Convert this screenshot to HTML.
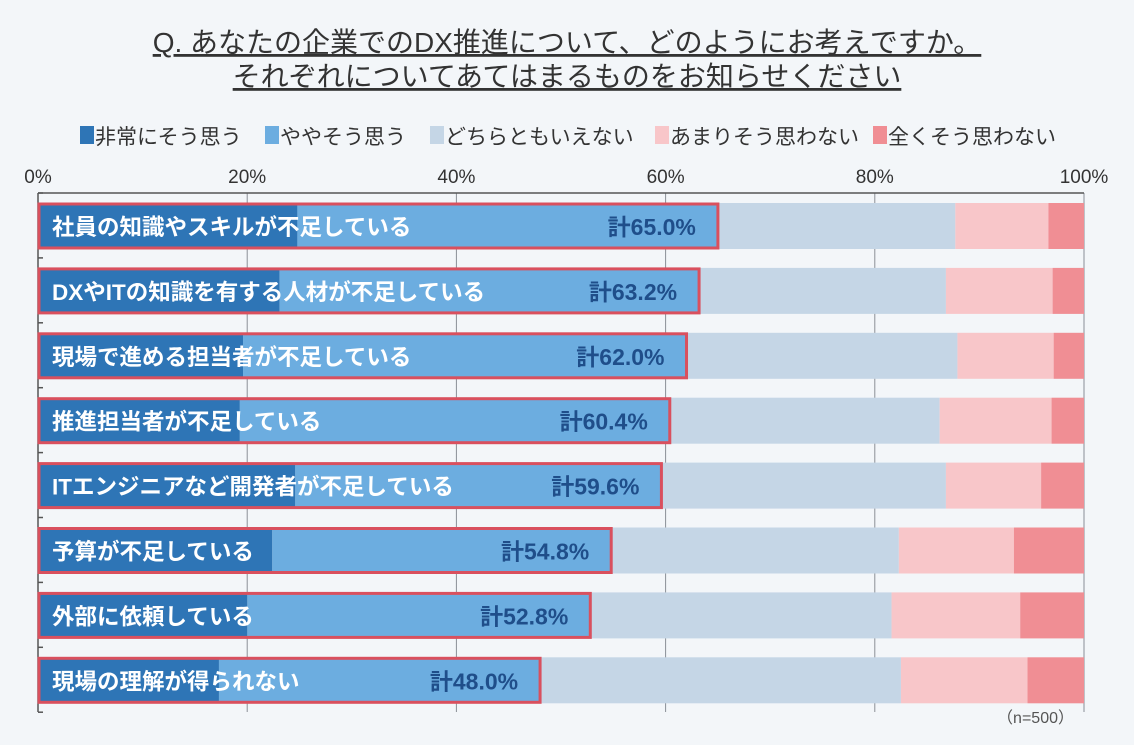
<!DOCTYPE html>
<html><head><meta charset="utf-8">
<style>
body{margin:0;background:#f3f6f9;}
#wrap{position:relative;width:1134px;height:745px;overflow:hidden;background:#f3f6f9;font-family:"Liberation Sans","Noto Sans CJK JP",sans-serif;}
</style></head>
<body>
<div id="wrap">
<svg id="chart" width="1134" height="745" xmlns="http://www.w3.org/2000/svg"></svg>
</div>
<script>
const categories=["社員の知識やスキルが不足している","DXやITの知識を有する人材が不足している","現場で進める担当者が不足している","推進担当者が不足している","ITエンジニアなど開発者が不足している","予算が不足している","外部に依頼している","現場の理解が得られない"];
const strongly=[24.8,23.1,19.6,19.3,24.6,22.4,20.0,17.3];
const somewhat=[40.2,40.1,42.4,41.1,35.0,32.4,32.8,30.7];
const neutral=[22.7,23.6,25.9,25.8,27.2,27.5,28.8,34.5];
const notReally=[8.9,10.2,9.2,10.7,9.1,11.0,12.3,12.1];
const notAtAll=[3.4,3.0,2.9,3.1,4.1,6.7,6.1,5.4];
const totalLabels=["計65.0%","計63.2%","計62.0%","計60.4%","計59.6%","計54.8%","計52.8%","計48.0%"];
const tickValues=[0,20,40,60,80,100];
const seriesNames=["非常にそう思う","ややそう思う","どちらともいえない","あまりそう思わない","全くそう思わない"];
const colors=["#2e75b6","#6cade0","#c5d6e6","#f8c6c9","#f08e94"];

const NS="http://www.w3.org/2000/svg";
const svg=document.getElementById('chart');
const X0=38,X1=1084,TOP=193,ROWH=64.9;
const xs=v=>X0+(X1-X0)*v/100;
const yc=i=>226+i*ROWH;
function mk(tag,attrs,parent){const e=document.createElementNS(NS,tag);for(const k in attrs)e.setAttribute(k,attrs[k]);(parent||svg).appendChild(e);return e;}

const t1=mk('text',{x:567,y:52,'text-anchor':'middle','font-size':28,fill:'#333','text-decoration':'underline'});


t1.textContent="Q. あなたの企業でのDX推進について、どのようにお考えですか。";
const t2=mk('text',{x:567,y:86,'text-anchor':'middle','font-size':28,fill:'#333','text-decoration':'underline'});


t2.textContent="それぞれについてあてはまるものをお知らせください";

const legX=[80,265,430,655,873];
seriesNames.forEach((n,i)=>{
  const g=mk('g',{});
  
  
  mk('rect',{x:legX[i],y:126,width:14,height:18,fill:colors[i]},g);
  const tx=mk('text',{x:legX[i]+15,y:144,'font-size':21,fill:'#333'},g);
  tx.textContent=n;
});

tickValues.forEach(v=>{
  const l=mk('line',{x1:xs(v),x2:xs(v),y1:TOP,y2:712,stroke:'#8a8f96','stroke-width':1});
  
  
  const tx=mk('text',{x:xs(v),y:183,'text-anchor':'middle','font-size':19,fill:'#333'});
  
  
  tx.textContent=v+"%";
});
const ax=mk('line',{x1:X0,x2:X1,y1:TOP,y2:TOP,stroke:'#555','stroke-width':1.5});


const ay=mk('line',{x1:X0,x2:X0,y1:TOP,y2:712,stroke:'#555','stroke-width':1.5});


for(let i=0;i<=categories.length;i++){
  mk('line',{x1:X0,x2:X0+5,y1:TOP+i*ROWH,y2:TOP+i*ROWH,stroke:'#555','stroke-width':1.5});
}

const series=[strongly,somewhat,neutral,notReally,notAtAll];
const segNames=['bar-strongly-agree','bar-somewhat-agree','bar-neutral','bar-somewhat-disagree','bar-strongly-disagree'];
categories.forEach((c,i)=>{
  let acc=0;const y=yc(i)-23;
  series.forEach((s,k)=>{
    const r=mk('rect',{x:xs(acc),y:y,width:xs(acc+s[i])-xs(acc),height:46,fill:colors[k]});
    
    
    acc+=s[i];
  });
  const tot=strongly[i]+somewhat[i];
  const o=mk('rect',{x:X0+1,y:y+1,width:xs(tot)-X0-1,height:44,fill:'none',stroke:'#d9505e','stroke-width':3});
  
  
  const lb=mk('text',{x:52,y:yc(i)+9,'font-size':22.5,'font-weight':'600',fill:'#fff'});
  
  
  lb.textContent=c;
  const tl=mk('text',{x:xs(tot)-22,y:yc(i)+9,'text-anchor':'end','font-size':23,'font-weight':'600',fill:'#1f4e8a'});
  
  
  tl.textContent=totalLabels[i];
});
const n=mk('text',{x:1074,y:723,'text-anchor':'end','font-size':16,fill:'#555'});


n.textContent="（n=500）";
</script>
</body></html>
